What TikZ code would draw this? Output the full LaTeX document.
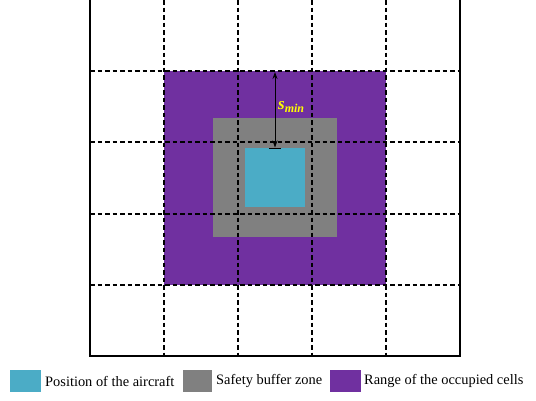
\documentclass[tikz,border=0pt]{standalone}
\usepackage{fontspec}
\setmainfont{Liberation Serif}
\usetikzlibrary{arrows.meta}
\definecolor{occpurple}{HTML}{7030A0}
\definecolor{buffgray}{HTML}{808080}
\definecolor{aircyan}{HTML}{4BACC6}
\definecolor{labyellow}{HTML}{FFFF00}
\tikzset{
  gridline/.style={line width=2pt, dash pattern=on 4.5pt off 3pt, black},
  frameline/.style={line width=2pt, black},
  legtext/.style={anchor=west, inner sep=0pt, font=\fontsize{14.4}{16}\selectfont},
  legbox/.style={anchor=west, minimum width=31pt, minimum height=22pt, inner sep=0pt, draw=none},
}
\begin{document}
\begin{tikzpicture}[x=1pt,y=-1pt]
\useasboundingbox[fill=white] (0,0) rectangle (536,400);
% regions
\fill[occpurple] (164,71) rectangle (386,285);
\fill[buffgray] (213,118) rectangle (337,237);
\fill[aircyan] (245,148) rectangle (305,207);
% grid
\foreach \x in {164,238,312,386} \draw[gridline] (\x,0) -- (\x,356);
\foreach \y in {71,142,214,285} \draw[gridline] (90,\y) -- (460,\y);
% frame
\draw[frameline] (90,-2) -- (90,356) -- (460,356) -- (460,-2);
% s_min arrow
\coordinate (atop) at (275,72);
\coordinate (abot) at (275,147.5);
\draw[line width=0.9pt, {Stealth[length=7pt,width=5pt]}-{Stealth[length=7pt,width=5pt]}] (atop) -- (abot);
\draw[line width=0.9pt] (269,148) -- (281,148);
\node[text=labyellow, anchor=west, inner sep=0pt] (smin) at (278,107) {\fontsize{17}{19}\selectfont\bfseries\itshape s\raisebox{-2.5pt}{\fontsize{12}{14}\selectfont min}};
% legend
\node[legbox, fill=aircyan] (lb1) at (10,381) {};
\node[legtext] (lt1) at (45,381) {Position of the aircraft};
\node[legbox, fill=buffgray, minimum width=29pt] (lb2) at (183,381) {};
\node[legtext] (lt2) at (216,381) {Safety buffer zone};
\node[legbox, fill=occpurple] (lb3) at (330,381) {};
\node[legtext] (lt3) at (364,381) {Range of the occupied cells};
\end{tikzpicture}
\end{document}
